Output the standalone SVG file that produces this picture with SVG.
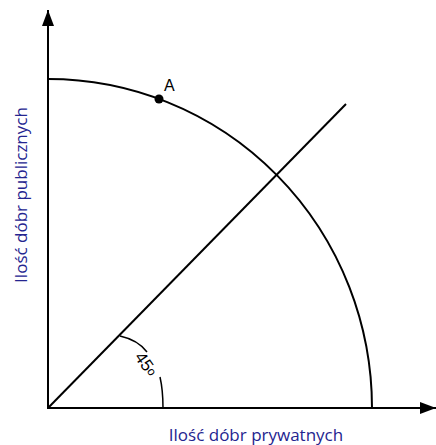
<svg xmlns="http://www.w3.org/2000/svg" width="436" height="445" viewBox="0 0 436 445">
<style>
.ln{stroke:#000;stroke-width:2;fill:none}
.thin{stroke:#000;stroke-width:1.5;fill:none}
.lbl{font-family:"Open Sans","Liberation Sans",sans-serif;font-size:17px;fill:#24248f}
.t{font-family:"Liberation Sans",sans-serif;fill:#000}
</style>
<defs>
<marker id="ah2" viewBox="0 0 16 12" markerWidth="16" markerHeight="12" refX="16" refY="6" orient="auto" markerUnits="userSpaceOnUse">
<path d="M0,0 L16,6 L0,12 Z" fill="#000"/>
</marker>
</defs>
<g id="connectors">
<line id="y-axis" class="ln" x1="48" y1="409" x2="48" y2="10" marker-end="url(#ah2)"/>
<line id="x-axis" class="ln" x1="47" y1="408" x2="436" y2="408" marker-end="url(#ah2)"/>
<path id="ppf" class="ln" d="M48,79 A324,329 0 0 1 372,408"/>
<line id="diag" class="ln" x1="48" y1="408" x2="346" y2="104"/>
<path class="thin" d="M120,336 Q138,340 147,352"/>
<path class="thin" d="M160,377 Q163,390 163,408"/>
</g>
<g id="pointA">
<circle cx="159" cy="99" r="4.5" fill="#000"/>
<text class="t" x="164" y="91" font-size="16">A</text>
</g>
<g id="angle">
<text class="t" font-size="17" transform="translate(134,357) rotate(55)">45<tspan font-size="12" dy="-2">o</tspan></text>
</g>
<g id="labels">
<text class="lbl" x="256" y="441" text-anchor="middle">Ilość dóbr prywatnych</text>
<text class="lbl" transform="translate(27,195) rotate(-90)" text-anchor="middle">Ilość dóbr publicznych</text>
</g>
</svg>
